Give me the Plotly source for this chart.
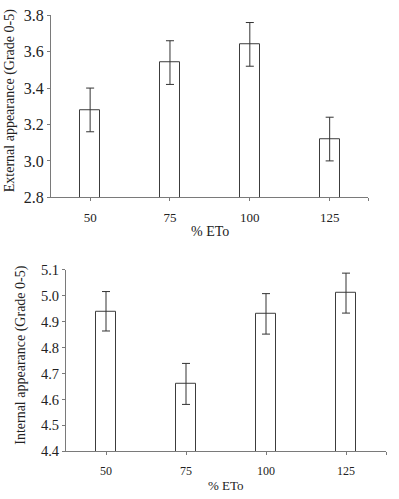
import plotly.graph_objects as go

categories = ["50", "75", "100", "125"]
external_vals = [3.28, 3.54, 3.64, 3.12]
external_err = [0.12, 0.12, 0.12, 0.12]
internal_vals = [4.94, 4.66, 4.93, 5.01]
internal_err = [0.076, 0.079, 0.078, 0.077]
ext_ticks = [2.8, 3.0, 3.2, 3.4, 3.6, 3.8]
int_ticks = [4.4, 4.5, 4.6, 4.7, 4.8, 4.9, 5.0, 5.1]

W, H = 399, 499
FONT = "Liberation Serif"
AX = "#7a7a7a"
BAR_LINE = "#3c3c3c"

xpos = list(range(len(categories)))

fig = go.Figure()
fig.add_trace(go.Bar(
    x=xpos, y=external_vals, width=0.25,
    marker=dict(color="white", line=dict(color=BAR_LINE, width=1)),
    error_y=dict(type="data", array=external_err, color="#333333", thickness=1, width=4),
    xaxis="x", yaxis="y", showlegend=False,
))
fig.add_trace(go.Bar(
    x=xpos, y=internal_vals, width=0.25,
    marker=dict(color="white", line=dict(color=BAR_LINE, width=1)),
    error_y=dict(type="data", array=internal_err, color="#333333", thickness=1, width=4),
    xaxis="x2", yaxis="y2", showlegend=False,
))

def xax(domain, anchor, rng, size):
    return dict(
        domain=domain, anchor=anchor, range=rng,
        tickvals=xpos + [rng[1]], ticktext=categories + [""],
        showline=True, linecolor=AX, linewidth=1,
        ticks="outside", ticklen=3, tickcolor=AX, tickwidth=1,
        ticklabelstandoff=5,
        showgrid=False, zeroline=False,
        tickfont=dict(family=FONT, size=size, color="#222"),
    )

def yax(domain, anchor, rng, tv, size):
    return dict(
        domain=domain, anchor=anchor, range=rng,
        tickvals=tv, ticktext=[f"{v:.1f}" for v in tv],
        showline=True, linecolor=AX, linewidth=1,
        ticks="outside", ticklen=3, tickcolor=AX, tickwidth=1,
        showgrid=False, zeroline=False,
        tickfont=dict(family=FONT, size=size, color="#222"),
    )

fig.update_layout(
    width=W, height=H,
    margin=dict(l=0, r=0, t=0, b=0),
    paper_bgcolor="white", plot_bgcolor="white",
    bargap=0,
    xaxis=xax([51 / W, 368 / W], "y", [-0.49, 3.48], 13),
    yaxis=yax([1 - 196 / H, 1 - 7.5 / H], "x", [2.8, 3.8], ext_ticks, 16),
    xaxis2=xax([66 / W, 386 / W], "y2", [-0.5, 3.5], 12),
    yaxis2=yax([1 - 459 / H, 1 - 271 / H], "x2", [4.4, 5.1], int_ticks, 14.5),
    annotations=[
        dict(text="% ETo", x=(51 + 368) / 2 / W, y=1 - 231 / H, xref="paper", yref="paper",
             showarrow=False, font=dict(family=FONT, size=14, color="#222"), xanchor="center", yanchor="middle"),
        dict(text="% ETo", x=(66 + 386) / 2 / W, y=1 - 494 / H, xref="paper", yref="paper",
             showarrow=False, font=dict(family=FONT, size=13, color="#222"), xanchor="center", yanchor="middle"),
        dict(text="External appearance (Grade 0-5)", x=9.5 / W, y=1 - 96 / H, xref="paper", yref="paper",
             showarrow=False, textangle=-90, font=dict(family=FONT, size=14, color="#222"),
             xanchor="center", yanchor="middle"),
        dict(text="Internal appearance (Grade 0-5)", x=21 / W, y=1 - 359 / H, xref="paper", yref="paper",
             showarrow=False, textangle=-90, font=dict(family=FONT, size=14, color="#222"),
             xanchor="center", yanchor="middle"),
    ],
)

fig.write_html("out.html")
